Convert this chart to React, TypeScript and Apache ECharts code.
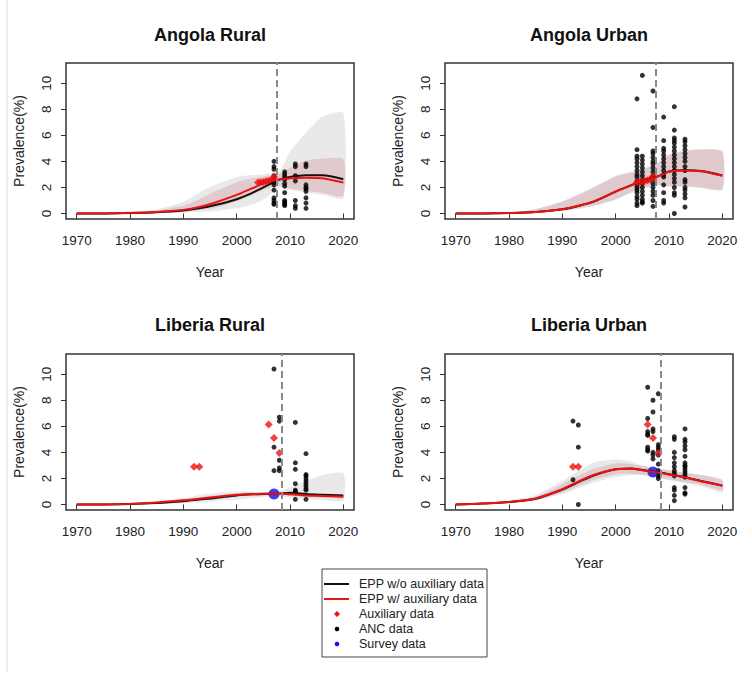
import React, { useEffect, useRef } from "react";
import * as echarts from "echarts";

const FONT = "'Liberation Sans', Arial, sans-serif";

const YEARS = [1970, 1975, 1980, 1985, 1990, 1993, 1996, 2000, 2003, 2005, 2008, 2010, 2013, 2016, 2020];
const TICK_YEARS = [1970, 1980, 1990, 2000, 2010, 2020];
const TICK_PREV = [0, 2, 4, 6, 8, 10];
const PANEL_TITLES = ["Angola Rural", "Angola Urban", "Liberia Rural", "Liberia Urban"];
const CUTOFF_YEARS = [2007.5, 2007.5, 2008.5, 2008.5];
const LEGEND_LABELS = ["EPP w/o auxiliary data", "EPP w/ auxiliary data", "Auxiliary data", "ANC data", "Survey data"];

// Angola Rural
const AR_BLACK = [0, 0.01, 0.04, 0.1, 0.23, 0.4, 0.65, 1.1, 1.6, 2.0, 2.6, 2.8, 2.93, 2.93, 2.63];
const AR_RED = [0, 0.01, 0.05, 0.12, 0.28, 0.5, 0.85, 1.43, 1.95, 2.3, 2.62, 2.7, 2.75, 2.7, 2.38];
const AR_GREY_HI = [0, 0.02, 0.08, 0.3, 0.9, 1.6, 2.2, 2.8, 2.95, 3.0, 3.2, 4.75, 6.2, 7.4, 7.7];
const AR_GREY_LO = [0, 0, 0.02, 0.05, 0.1, 0.12, 0.2, 0.4, 0.7, 1.05, 2.0, 1.8, 1.6, 1.45, 1.2];
const AR_PINK_HI = [0, 0.02, 0.07, 0.25, 0.6, 1.1, 1.7, 2.4, 2.7, 2.85, 3.05, 3.5, 4.07, 4.2, 4.17];
const AR_PINK_LO = [0, 0, 0.02, 0.06, 0.15, 0.28, 0.45, 0.95, 1.45, 1.8, 2.15, 1.9, 1.75, 1.6, 1.35];

// Angola Urban
const AU_BLACK = [0, 0.01, 0.04, 0.11, 0.32, 0.58, 0.93, 1.68, 2.18, 2.5, 2.87, 3.22, 3.32, 3.26, 2.92];
const AU_RED = [0, 0.01, 0.04, 0.12, 0.33, 0.6, 0.95, 1.7, 2.2, 2.5, 2.85, 3.2, 3.3, 3.25, 2.9];
const AU_GREY_HI = [0, 0.02, 0.08, 0.35, 0.95, 1.5, 2.1, 2.9, 3.2, 3.4, 3.95, 4.55, 4.85, 4.95, 4.8];
const AU_GREY_LO = [0, 0, 0.02, 0.05, 0.2, 0.35, 0.58, 1.05, 1.6, 1.9, 2.15, 2.05, 2.05, 1.95, 1.82];
const AU_PINK_HI = [0, 0.02, 0.07, 0.33, 0.9, 1.4, 2.0, 2.85, 3.15, 3.35, 3.9, 4.5, 4.8, 4.9, 4.75];
const AU_PINK_LO = [0, 0, 0.02, 0.06, 0.23, 0.4, 0.62, 1.1, 1.65, 1.95, 2.2, 2.1, 2.1, 2.0, 1.87];

// Liberia Rural
const LR_BLACK = [0, 0.01, 0.04, 0.12, 0.26, 0.38, 0.5, 0.7, 0.78, 0.8, 0.85, 0.9, 0.8, 0.75, 0.7];
const LR_RED = [0, 0.01, 0.05, 0.15, 0.32, 0.45, 0.58, 0.75, 0.8, 0.82, 0.85, 0.78, 0.7, 0.66, 0.6];
const LR_GREY_HI = [0, 0.02, 0.08, 0.22, 0.5, 0.72, 0.88, 1.0, 0.98, 0.95, 1.0, 1.3, 1.8, 2.25, 2.4];
const LR_GREY_LO = [0, 0, 0.02, 0.05, 0.1, 0.16, 0.25, 0.38, 0.5, 0.6, 0.65, 0.5, 0.4, 0.35, 0.3];
const LR_PINK_HI = [0, 0.02, 0.08, 0.2, 0.42, 0.56, 0.7, 0.87, 0.92, 0.94, 0.97, 0.9, 0.83, 0.79, 0.74];
const LR_PINK_LO = [0, 0, 0.03, 0.1, 0.22, 0.34, 0.46, 0.63, 0.68, 0.7, 0.73, 0.66, 0.58, 0.53, 0.47];

// Liberia Urban
const LU_BLACK = [0, 0.07, 0.19, 0.45, 1.15, 1.72, 2.25, 2.7, 2.77, 2.65, 2.47, 2.33, 2.1, 1.8, 1.45];
const LU_RED = [0, 0.07, 0.2, 0.46, 1.18, 1.76, 2.28, 2.7, 2.75, 2.63, 2.45, 2.3, 2.08, 1.78, 1.43];
const LU_GREY_HI = [0, 0.1, 0.3, 0.74, 1.8, 2.6, 3.25, 3.45, 3.3, 2.97, 2.7, 2.63, 2.45, 2.28, 1.94];
const LU_GREY_LO = [0, 0.04, 0.1, 0.28, 0.8, 1.25, 1.7, 2.12, 2.25, 2.28, 2.0, 1.87, 1.62, 1.4, 0.92];
const LU_PINK_HI = [0, 0.09, 0.27, 0.6, 1.56, 2.2, 2.75, 3.15, 3.1, 2.97, 2.75, 2.63, 2.42, 2.25, 1.87];
const LU_PINK_LO = [0, 0.05, 0.13, 0.33, 0.92, 1.4, 1.9, 2.33, 2.35, 2.28, 2.05, 1.94, 1.72, 1.52, 1.1];

// ANC data: [year, prevalence values]
const AR_ANC: [number, number[]][] = [
  [2007, [4.0, 3.6, 3.4, 2.9, 2.6, 2.4, 2.2, 1.8, 1.2, 1.0, 0.8, 0.7]],
  [2009, [3.2, 3.0, 2.8, 2.6, 2.3, 2.1, 1.6, 1.0, 0.9, 0.8, 0.7, 0.6]],
  [2011, [3.8, 3.6, 2.9, 2.5, 1.0, 0.6, 0.4]],
  [2013, [3.8, 3.6, 2.2, 2.0, 1.9, 1.7, 1.2, 0.8, 0.4]],
];
const AU_ANC: [number, number[]][] = [
  [2004, [8.8, 4.9, 4.4, 4.2, 3.9, 3.6, 3.3, 3.0, 2.8, 2.5, 2.2, 2.0, 1.8, 1.6, 1.3, 1.1, 0.8, 0.6]],
  [2005, [10.6, 4.4, 4.1, 3.8, 3.5, 3.2, 2.9, 2.6, 2.3, 2.0, 1.7, 1.4, 1.1, 0.9, 0.8]],
  [2007, [9.4, 6.6, 4.8, 4.6, 4.3, 4.0, 3.8, 3.5, 3.2, 2.9, 2.6, 2.3, 2.0, 1.7, 1.4, 1.0, 0.55]],
  [2009, [7.4, 5.6, 5.0, 4.8, 4.5, 4.2, 3.9, 3.6, 3.3, 3.0, 2.8, 2.2, 1.6, 1.0, 0.8]],
  [2011, [8.2, 6.4, 5.8, 5.6, 5.4, 5.1, 4.8, 4.5, 4.2, 3.9, 3.6, 3.3, 3.0, 2.7, 2.4, 2.0, 1.6, 1.4, 0.0]],
  [2013, [5.7, 5.5, 5.2, 4.9, 4.6, 4.3, 4.0, 3.6, 3.3, 2.6, 2.4, 2.0, 1.8, 1.5, 1.2, 0.5]],
];
const LR_ANC: [number, number[]][] = [
  [2007, [10.4, 4.4, 2.6]],
  [2008, [6.7, 6.4, 3.4, 2.8, 2.6]],
  [2011, [6.3, 3.2, 2.7, 1.6, 1.1, 1.0, 0.9, 0.4]],
  [2013, [3.9, 2.3, 2.2, 2.0, 1.8, 1.6, 1.4, 1.2, 1.1, 0.4]],
];
const LU_ANC: [number, number[]][] = [
  [1992, [6.4, 1.9]],
  [1993, [6.1, 4.4, 0.0]],
  [2006, [9.0, 6.6, 5.6, 5.4, 5.3, 4.4, 4.2, 4.1]],
  [2007, [8.0, 7.1, 5.8, 5.6, 4.0, 3.8, 3.5]],
  [2008, [8.5, 4.6, 4.4, 4.2, 3.8, 3.1, 2.6, 2.4, 2.2, 2.0]],
  [2011, [5.2, 5.0, 4.0, 3.6, 3.2, 2.9, 2.6, 2.4, 2.2, 1.3, 1.1, 0.7, 0.3]],
  [2013, [5.8, 5.0, 4.8, 4.5, 4.2, 3.7, 3.2, 3.0, 2.9, 2.7, 2.5, 2.3, 2.1, 1.3, 0.9, 0.8]],
];

// Auxiliary data
const AR_AUX: [number, number][] = [[2004, 2.38], [2004.5, 2.4], [2005, 2.42], [2005.5, 2.47], [2006, 2.52], [2006.5, 2.58], [2007, 2.65], [2007, 2.8]];
const AU_AUX: [number, number][] = [[2004, 2.4], [2004.5, 2.42], [2005, 2.45], [2005.5, 2.5], [2006, 2.55], [2006.5, 2.62], [2007, 2.7], [2007, 2.85]];
const LR_AUX: [number, number][] = [[1992, 2.9], [1993, 2.9], [2006, 6.15], [2007, 5.1], [2008, 3.95]];
const LU_AUX: [number, number][] = [[1992, 2.9], [1993, 2.9], [2006, 6.15], [2007, 5.1], [2008, 3.95]];

// Survey data
const AR_SURVEY: [number, number][] = [];
const AU_SURVEY: [number, number][] = [];
const LR_SURVEY: [number, number][] = [[2007, 0.8]];
const LU_SURVEY: [number, number][] = [[2007, 2.5]];

const PANELS = [
  { black: AR_BLACK, red: AR_RED, gHi: AR_GREY_HI, gLo: AR_GREY_LO, pHi: AR_PINK_HI, pLo: AR_PINK_LO, anc: AR_ANC, aux: AR_AUX, survey: AR_SURVEY },
  { black: AU_BLACK, red: AU_RED, gHi: AU_GREY_HI, gLo: AU_GREY_LO, pHi: AU_PINK_HI, pLo: AU_PINK_LO, anc: AU_ANC, aux: AU_AUX, survey: AU_SURVEY },
  { black: LR_BLACK, red: LR_RED, gHi: LR_GREY_HI, gLo: LR_GREY_LO, pHi: LR_PINK_HI, pLo: LR_PINK_LO, anc: LR_ANC, aux: LR_AUX, survey: LR_SURVEY },
  { black: LU_BLACK, red: LU_RED, gHi: LU_GREY_HI, gLo: LU_GREY_LO, pHi: LU_PINK_HI, pLo: LU_PINK_LO, anc: LU_ANC, aux: LU_AUX, survey: LU_SURVEY },
];

const GRID_POS = [
  { left: 66, top: 63 },
  { left: 445, top: 63 },
  { left: 66, top: 354 },
  { left: 445, top: 354 },
];
const GRID_W = 288;
const GRID_H = 156;

const GREY_FILL = "#e9e9e9";
const PINK_FILL = "rgba(200, 90, 105, 0.21)";
const RED = "#ee1111";
const BLACK = "#111111";
const BLUE = "#1010ee";

function bandSeries(i: number, lo: number[], hi: number[], color: string) {
  return {
    type: "custom",
    xAxisIndex: i,
    yAxisIndex: i,
    silent: true,
    clip: true,
    data: YEARS.map((y, k) => [y, lo[k], hi[k]]),
    encode: { x: 0, y: [1, 2] },
    renderItem: (params: any, api: any) => {
      if (params.dataIndex !== 0) return null;
      const pts: number[][] = [];
      for (let k = 0; k < YEARS.length; k++) pts.push(api.coord([YEARS[k], hi[k]]));
      for (let k = YEARS.length - 1; k >= 0; k--) pts.push(api.coord([YEARS[k], lo[k]]));
      return { type: "polygon", shape: { points: pts, smooth: 0.2 }, style: { fill: color } };
    },
  };
}

function buildOption() {
  const grid = GRID_POS.map((g) => ({
    left: g.left,
    top: g.top,
    width: GRID_W,
    height: GRID_H,
    show: true,
    borderColor: "#333",
    borderWidth: 1.5,
    backgroundColor: "transparent",
  }));
  const xAxis = GRID_POS.map((_, i) => ({
    type: "value",
    gridIndex: i,
    min: 1968,
    max: 2022,
    axisLine: { show: false },
    splitLine: { show: false },
    axisTick: { show: true, length: 5, customValues: TICK_YEARS, lineStyle: { color: "#333" } },
    axisLabel: {
      customValues: TICK_YEARS,
      margin: 14,
      fontSize: 13.5,
      color: "#222",
      fontFamily: FONT,
      formatter: (v: number) => String(v),
    },
    name: "Year",
    nameLocation: "middle",
    nameGap: 46,
    nameTextStyle: { fontSize: 14, color: "#222", fontFamily: FONT },
  }));
  const yAxis = GRID_POS.map((_, i) => ({
    type: "value",
    gridIndex: i,
    min: -0.42,
    max: 11.55,
    axisLine: { show: false },
    splitLine: { show: false },
    axisTick: { show: true, length: 5, customValues: TICK_PREV, lineStyle: { color: "#333" } },
    axisLabel: { customValues: TICK_PREV, rotate: 90, margin: 13, fontSize: 13.5, color: "#222", fontFamily: FONT },
    name: "Prevalence(%)",
    nameLocation: "middle",
    nameGap: 40,
    nameRotate: 90,
    nameTextStyle: { fontSize: 14, color: "#222", fontFamily: FONT },
  }));

  const series: any[] = [];
  PANELS.forEach((p, i) => {
    series.push(bandSeries(i, p.gLo, p.gHi, GREY_FILL));
    series.push(bandSeries(i, p.pLo, p.pHi, PINK_FILL));
    series.push({
      type: "line",
      name: LEGEND_LABELS[0],
      xAxisIndex: i,
      yAxisIndex: i,
      data: YEARS.map((y, k) => [y, p.black[k]]),
      symbol: "none",
      smooth: 0.3,
      lineStyle: { color: BLACK, width: 2 },
      silent: true,
    });
    series.push({
      type: "line",
      name: LEGEND_LABELS[1],
      xAxisIndex: i,
      yAxisIndex: i,
      data: YEARS.map((y, k) => [y, p.red[k]]),
      symbol: "none",
      smooth: 0.3,
      lineStyle: { color: RED, width: 2 },
      silent: true,
      markLine: {
        silent: true,
        symbol: "none",
        label: { show: false },
        lineStyle: { color: "#8a8a8a", width: 2, type: [7, 4] },
        data: [{ xAxis: CUTOFF_YEARS[i] }],
      },
    });
    const ancPts: number[][] = [];
    p.anc.forEach(([yr, vals]) => vals.forEach((v) => ancPts.push([yr, v])));
    series.push({
      type: "scatter",
      name: LEGEND_LABELS[3],
      xAxisIndex: i,
      yAxisIndex: i,
      data: ancPts,
      symbol: "circle",
      symbolSize: 5,
      itemStyle: { color: "#000" },
      silent: true,
    });
    series.push({
      type: "scatter",
      name: LEGEND_LABELS[2],
      xAxisIndex: i,
      yAxisIndex: i,
      data: p.aux,
      symbol: "diamond",
      symbolSize: 8,
      itemStyle: { color: "#ee1111" },
      silent: true,
    });
    series.push({
      type: "scatter",
      name: LEGEND_LABELS[4],
      xAxisIndex: i,
      yAxisIndex: i,
      data: p.survey,
      symbol: "circle",
      symbolSize: 11,
      itemStyle: { color: BLUE },
      silent: true,
    });
  });

  const title = PANEL_TITLES.map((t, i) => ({
    text: t,
    left: GRID_POS[i].left + GRID_W / 2,
    top: i < 2 ? 26 : 316,
    textAlign: "center",
    padding: 0,
    textStyle: { fontSize: 18, fontWeight: "bold", color: "#111", fontFamily: FONT },
  }));

  const LX = 322, LY = 569;
  const rowY = [584, 599, 614, 629, 644];
  const graphic: any[] = [
    { type: "line", shape: { x1: 7, y1: 0, x2: 7, y2: 672 }, style: { stroke: "#dcdcdc", lineWidth: 1 } },
    { type: "rect", shape: { x: LX, y: LY, width: 165, height: 88 }, style: { fill: "#fff", stroke: "#444", lineWidth: 1 } },
    { type: "line", shape: { x1: 324, y1: rowY[0], x2: 349, y2: rowY[0] }, style: { stroke: BLACK, lineWidth: 2 } },
    { type: "line", shape: { x1: 324, y1: rowY[1], x2: 349, y2: rowY[1] }, style: { stroke: RED, lineWidth: 2 } },
    { type: "polygon", shape: { points: [[337, rowY[2] - 3], [340, rowY[2]], [337, rowY[2] + 3], [334, rowY[2]]] }, style: { fill: RED } },
    { type: "circle", shape: { cx: 337, cy: rowY[3], r: 2.3 }, style: { fill: "#000" } },
    { type: "circle", shape: { cx: 337, cy: rowY[4], r: 2.3 }, style: { fill: BLUE } },
  ];
  LEGEND_LABELS.forEach((lab, k) => {
    graphic.push({
      type: "text",
      x: 359,
      y: rowY[k],
      style: { text: lab, fontSize: 12.5, fontFamily: FONT, fill: "#222", verticalAlign: "middle", align: "left" },
    });
  });

  return {
    animation: false,
    backgroundColor: "#fff",
    textStyle: { fontFamily: FONT },
    title,
    grid,
    xAxis,
    yAxis,
    series,
    graphic,
  };
}

export default function App() {
  const ref = useRef<HTMLDivElement>(null);
  useEffect(() => {
    if (!ref.current) return;
    const chart = echarts.init(ref.current, undefined, { renderer: "svg" });
    chart.setOption(buildOption() as any);
    return () => chart.dispose();
  }, []);
  return <div ref={ref} style={{ position: "absolute", left: 0, top: 0, width: 752, height: 679 }} />;
}
